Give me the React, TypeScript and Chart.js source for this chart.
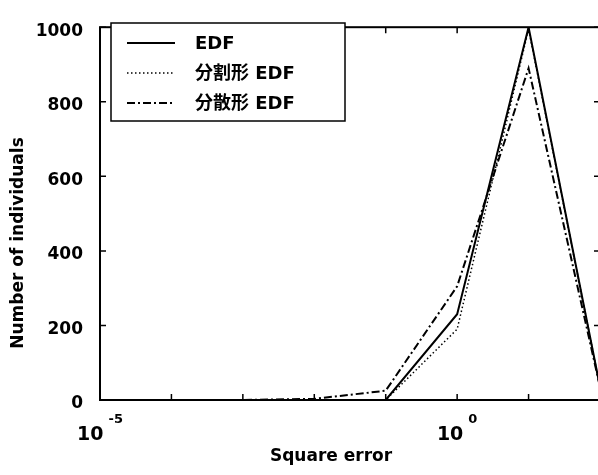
import React, { useEffect, useRef } from 'react';
import { Chart, registerables } from 'chart.js';
Chart.register(...registerables);

const xValues = [1e-5, 1e-4, 1e-3, 1e-2, 1e-1, 1, 10, 100];
const edfCounts = [0, 0, 0, 0, 0, 230, 1000, 35];
const splitCounts = [0, 0, 0, 0, 0, 190, 995, 35];
const distCounts = [0, 0, 0, 3, 25, 305, 890, 35];
const seriesLabels = ['EDF', '分割形 EDF', '分散形 EDF'];
const xLabelDecades = [-5, 0];
const xTitle = 'Square error';
const yTitle = 'Number of individuals';

const FONT = "'DejaVu Sans', 'Noto Sans CJK JP', sans-serif";

const decoPlugin = {
  id: 'deco',
  afterDraw(chart: any) {
    const { ctx, chartArea, scales } = chart;
    const { left, right, top, bottom } = chartArea;
    const x = scales.x;
    const y = scales.y;
    ctx.save();
    ctx.strokeStyle = '#000';
    ctx.fillStyle = '#000';
    ctx.setLineDash([]);
    // frame
    ctx.lineWidth = 2;
    ctx.strokeRect(left, top, right - left, bottom - top);
    // y ticks inward
    ctx.lineWidth = 1.5;
    y.ticks.forEach((t: any) => {
      const py = y.getPixelForValue(t.value);
      ctx.beginPath();
      ctx.moveTo(left, py); ctx.lineTo(left + 6, py);
      ctx.moveTo(right - 6, py); ctx.lineTo(right, py);
      ctx.stroke();
    });
    // x decade ticks inward
    const lo = Math.round(Math.log10(x.min));
    const hi = Math.round(Math.log10(x.max));
    for (let e = lo; e <= hi; e++) {
      const px = x.getPixelForValue(Math.pow(10, e));
      ctx.beginPath();
      ctx.moveTo(px, bottom); ctx.lineTo(px, bottom - 6);
      ctx.moveTo(px, top); ctx.lineTo(px, top + 6);
      ctx.stroke();
    }
    // x labels with superscript
    xLabelDecades.forEach((d) => {
      const px = x.getPixelForValue(Math.pow(10, d));
      ctx.font = `bold 19px ${FONT}`;
      const wb = ctx.measureText('10').width;
      ctx.font = `bold 13px ${FONT}`;
      const exp = String(d);
      const we = ctx.measureText(exp).width;
      const gap = 5;
      const start = px - (wb + gap + we) / 2;
      ctx.textAlign = 'left';
      ctx.textBaseline = 'alphabetic';
      ctx.font = `bold 19px ${FONT}`;
      ctx.fillText('10', start, 440);
      ctx.font = `bold 13px ${FONT}`;
      ctx.fillText(exp, start + wb + gap, 423);
    });
    // axis titles
    ctx.font = `bold 17px ${FONT}`;
    ctx.textAlign = 'center';
    ctx.textBaseline = 'middle';
    ctx.fillText(xTitle, 331, 457);
    ctx.save();
    ctx.translate(19, 243);
    ctx.rotate(-Math.PI / 2);
    ctx.fillText(yTitle, 0, 0);
    ctx.restore();
    // legend
    const bx = 111, by = 23, bw = 234, bh = 98;
    ctx.fillStyle = '#fff';
    ctx.fillRect(bx, by, bw, bh);
    ctx.lineWidth = 1.5;
    ctx.strokeRect(bx, by, bw, bh);
    ctx.fillStyle = '#000';
    chart.data.datasets.forEach((ds: any, i: number) => {
      const ly = 43 + i * 30;
      ctx.save();
      ctx.lineWidth = ds.borderWidth;
      ctx.setLineDash(ds.borderDash || []);
      ctx.beginPath();
      ctx.moveTo(127, ly);
      ctx.lineTo(175, ly);
      ctx.stroke();
      ctx.restore();
      ctx.font = `bold 18px ${FONT}`;
      ctx.textAlign = 'left';
      ctx.textBaseline = 'middle';
      ctx.fillText(ds.label, 195, ly + 1);
    });
    ctx.restore();
  },
};

export default function App() {
  const ref = useRef<HTMLCanvasElement>(null);
  useEffect(() => {
    document.body.style.margin = '0';
    const mk = (vals: number[]) => xValues.map((v, i) => ({ x: v, y: vals[i] }));
    const chart = new Chart(ref.current as HTMLCanvasElement, {
      type: 'line',
      data: {
        datasets: [
          { label: seriesLabels[0], data: mk(edfCounts), borderColor: '#000', borderWidth: 2, borderDash: [], pointRadius: 0, tension: 0 },
          { label: seriesLabels[1], data: mk(splitCounts), borderColor: '#000', borderWidth: 1.5, borderDash: [1.5, 2.5], pointRadius: 0, tension: 0 },
          { label: seriesLabels[2], data: mk(distCounts), borderColor: '#000', borderWidth: 2, borderDash: [8, 3, 2, 3], pointRadius: 0, tension: 0 },
        ],
      },
      options: {
        responsive: false,
        animation: false,
        devicePixelRatio: 1,
        layout: { padding: { top: 16, right: 0, left: 0, bottom: 0 } },
        plugins: { legend: { display: false }, tooltip: { enabled: false } },
        scales: {
          x: {
            type: 'logarithmic',
            min: 1e-5,
            max: 100,
            grid: { display: false },
            border: { display: false },
            ticks: { display: false },
            afterFit: (s: any) => { s.height = 75; },
          },
          y: {
            type: 'linear',
            min: 0,
            max: 1000,
            grid: { display: false, drawTicks: false },
            border: { display: false },
            ticks: {
              stepSize: 200,
              padding: 17,
              labelOffset: 4,
              color: '#000',
              font: { family: FONT, size: 17, weight: 'bold' },
              callback: (v: any) => String(v),
            },
            afterFit: (s: any) => { s.width = 100; },
          },
        },
      } as any,
      plugins: [decoPlugin],
    });
    return () => chart.destroy();
  }, []);
  return (
    <div style={{ width: 598, height: 475, overflow: 'hidden', position: 'relative', background: '#fff' }}>
      <canvas ref={ref} width={600} height={475} />
    </div>
  );
}
